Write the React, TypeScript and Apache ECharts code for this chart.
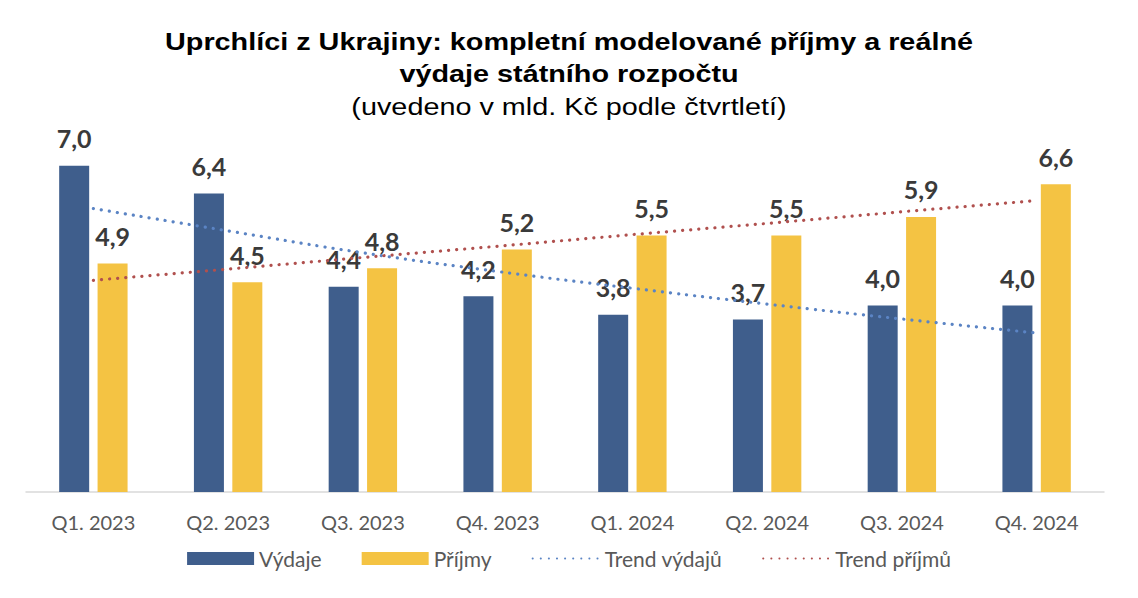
import React, { useEffect, useRef } from "react";
import * as echarts from "echarts";

const categories = ["Q1. 2023", "Q2. 2023", "Q3. 2023", "Q4. 2023", "Q1. 2024", "Q2. 2024", "Q3. 2024", "Q4. 2024"];
const vydaje = [7.0, 6.4, 4.4, 4.2, 3.8, 3.7, 4.0, 4.0];
const prijmy = [4.9, 4.5, 4.8, 5.2, 5.5, 5.5, 5.9, 6.6];
const trendVydaju = [6.08, 5.6, 5.13, 4.73, 4.37, 4.03, 3.71, 3.41];
const trendPrijmu = [4.54, 4.78, 5.03, 5.27, 5.52, 5.76, 6.01, 6.25];

const titleLine1 = "Uprchlíci z Ukrajiny: kompletní modelované příjmy a reálné";
const titleLine2 = "výdaje státního rozpočtu";
const subtitle = "(uvedeno v mld. Kč podle čtvrtletí)";

const BLUE = "#3F5E8C";
const YELLOW = "#F4C343";
const BLUE_T = "#5B84C4";
const RED_T = "#B0504E";
const LABEL = "#3A3A3A";
const TITLE_FONT = "'Liberation Sans', Arial, sans-serif";
const BODY_FONT = "Lato, 'Open Sans', sans-serif";

export default function App() {
  const ref = useRef<HTMLDivElement>(null);
  useEffect(() => {
    if (!ref.current) return;
    const chart = echarts.init(ref.current, undefined, { renderer: "svg" });
    const label = {
      show: true,
      position: "top",
      distance: 15,
      color: LABEL,
      fontFamily: BODY_FONT,
      fontWeight: "bold",
      fontSize: 25,
      formatter: (p: any) => p.value.toFixed(1).replace(".", ","),
    };
    const titleText = (text: string, y: number, bold: boolean) => ({
      type: "text",
      x: 569,
      y,
      scaleX: 1.2,
      style: {
        text,
        fill: "#000",
        font: `${bold ? "bold " : ""}24px ${TITLE_FONT}`,
        textAlign: "center",
        textVerticalAlign: "middle",
      },
    });
    const noSymbol = { opacity: 0 };
    chart.setOption({
      animation: false,
      backgroundColor: "#ffffff",
      graphic: [
        titleText(titleLine1, 42, true),
        titleText(titleLine2, 74, true),
        titleText(subtitle, 107, false),
      ],
      legend: {
        bottom: 24,
        left: "center",
        itemWidth: 67,
        itemHeight: 13,
        itemGap: 40,
        textStyle: { fontFamily: BODY_FONT, fontSize: 21, color: "#595959" },
        data: [
          { name: "Výdaje", icon: "rect" },
          { name: "Příjmy", icon: "rect" },
          { name: "Trend výdajů", itemStyle: noSymbol },
          { name: "Trend příjmů", itemStyle: noSymbol },
        ],
      },
      grid: { left: 26, right: 34, top: 119, bottom: 106 },
      xAxis: {
        type: "category",
        data: categories,
        axisLine: { show: true, lineStyle: { color: "#D9D9D9", width: 1.5 } },
        axisTick: { show: false },
        axisLabel: { fontFamily: BODY_FONT, fontSize: 20, color: "#595959", margin: 20 },
      },
      yAxis: {
        type: "value",
        min: 0,
        max: 8,
        show: false,
        splitLine: { show: false },
      },
      series: [
        {
          name: "Výdaje",
          type: "bar",
          data: vydaje,
          barWidth: 30,
          barGap: "28%",
          itemStyle: { color: BLUE },
          label,
          z: 2,
        },
        {
          name: "Příjmy",
          type: "bar",
          data: prijmy,
          barWidth: 30,
          itemStyle: { color: YELLOW },
          label,
          z: 2,
        },
        {
          name: "Trend výdajů",
          type: "line",
          data: trendVydaju,
          symbol: "none",
          smooth: true,
          itemStyle: { color: BLUE_T },
          lineStyle: { color: BLUE_T, width: 3.2, type: [0.1, 8], cap: "round" },
          z: 3,
        },
        {
          name: "Trend příjmů",
          type: "line",
          data: trendPrijmu,
          symbol: "none",
          itemStyle: { color: RED_T },
          lineStyle: { color: RED_T, width: 3.2, type: [0.1, 8], cap: "round" },
          z: 3,
        },
      ],
    });
    return () => chart.dispose();
  }, []);
  return <div ref={ref} style={{ position: "fixed", left: 0, top: 0, width: 1138, height: 598 }} />;
}
